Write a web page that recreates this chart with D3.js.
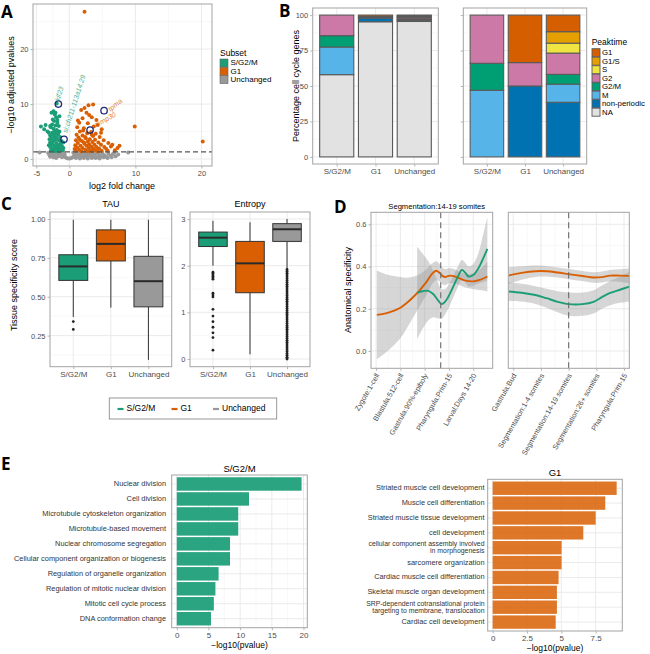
<!DOCTYPE html>
<html><head><meta charset="utf-8">
<script src="https://cdn.jsdelivr.net/npm/d3@7"></script>
<style>body{margin:0;background:#fff}</style>
</head><body><svg id="c" width="650" height="654" xmlns="http://www.w3.org/2000/svg"></svg>
<script>
// ---------------- DATA ----------------
const subsetNames = ["S/G2/M", "G1", "Unchanged"];
const subsetColors = ["#1b9e77", "#d95f02", "#999999"];

// Panel A: volcano [log2FC, -log10 adj p]
const volcanoUnchanged = [[-4.5,1.2],[-3.2,1.1],[-2.8,0.9],[-2.5,1.2],[-2.2,0.7],[-1.9,1.0],[-1.6,0.5],[-1.3,0.9],[-1.0,0.6],[-0.8,1.1],[-0.6,0.3],[-0.4,0.2],[-0.2,0.1],[0.1,0.1],[0.3,0.2],[0.5,0.3],[0.7,0.6],[0.9,0.9],[1.1,0.4],[1.3,1.1],[1.5,0.7],[1.7,0.3],[1.9,1.0],[2.1,0.5],[2.3,1.2],[2.5,0.8],[2.7,0.3],[2.9,1.0],[3.1,0.6],[3.3,1.2],[3.5,0.4],[3.7,0.9],[3.9,0.6],[4.1,1.1],[4.3,0.3],[4.5,0.8],[4.8,0.5],[5.0,1.1],[5.3,0.7],[5.6,0.4],[5.9,1.0],[6.2,0.6],[6.6,0.9],[7.0,0.5],[7.4,0.8],[8.9,1.2],[-2.9,0.4],[-2.4,0.3],[-2.0,0.2],[-1.5,1.2],[-1.1,0.3],[-3.0,0.7],[1.0,0.2],[1.6,0.1],[2.2,0.2],[2.8,0.1],[3.4,0.2],[4.0,0.2],[4.6,0.1],[5.2,0.3],[5.8,0.2],[0.6,1.2],[1.2,0.8],[2.0,0.9],[2.6,0.5],[3.2,0.9],[3.8,0.3],[4.4,1.2],[6.4,0.3],[6.8,1.2],[-1.7,0.8],[-2.6,0.6],[-0.7,0.8]];
const volcanoSG2M = [[-4.3,5.9],[-3.8,5.4],[-3.3,5.0],[-3.6,6.2],[-2.7,8.4],[-2.4,8.7],[-2.2,8.1],[-1.9,10.1],[-2.0,7.6],[-2.5,7.2],[-2.3,6.9],[-1.8,6.6],[-2.6,6.3],[-2.1,6.1],[-1.6,6.0],[-2.8,5.8],[-2.4,5.5],[-1.9,5.3],[-2.2,5.1],[-1.5,5.0],[-2.6,4.8],[-2.0,4.6],[-1.7,4.4],[-2.9,4.3],[-2.3,4.1],[-1.4,4.0],[-2.7,3.8],[-1.9,3.7],[-2.2,3.5],[-1.6,3.4],[-1.2,3.3],[-2.5,3.2],[-2.9,3.0],[-2.0,2.9],[-1.4,2.8],[-2.7,2.6],[-1.8,2.5],[-2.3,2.4],[-1.1,2.3],[-2.9,2.2],[-1.6,2.1],[-2.1,2.0],[-2.6,1.9],[-1.3,1.8],[-1.9,1.7],[-2.4,1.6],[-2.8,1.5],[-1.5,1.5],[-1.0,1.6],[-2.2,1.4],[-1.7,1.4],[-2.6,2.9],[-1.3,2.6],[-2.0,3.9],[-1.6,4.9],[-2.4,4.5],[-1.8,7.1],[-2.1,8.4],[-1.5,7.8],[-2.9,6.0],[-3.1,4.8],[-3.0,3.6],[-3.1,2.5],[-0.9,2.0],[-0.9,3.0]];
const volcanoG1 = [[2.3,26.8],[20.2,3.2],[9.9,5.9],[2.9,9.8],[3.6,9.9],[2.3,9.3],[1.8,8.9],[2.6,8.4],[3.4,7.6],[2.0,7.4],[4.1,7.1],[1.5,6.6],[2.8,6.5],[4.3,6.2],[3.7,5.9],[1.2,5.8],[2.2,5.6],[4.9,5.4],[1.6,5.0],[3.3,4.9],[2.7,4.7],[4.0,4.6],[1.1,4.4],[2.0,4.3],[3.6,4.2],[4.6,4.0],[1.4,3.9],[2.5,3.8],[3.1,3.6],[3.9,3.5],[1.0,3.4],[1.9,3.3],[2.8,3.2],[3.5,3.1],[4.4,3.0],[5.9,2.9],[1.3,2.9],[2.3,2.8],[3.0,2.7],[3.8,2.6],[4.8,2.6],[6.5,2.6],[0.9,2.5],[1.7,2.4],[2.6,2.4],[3.3,2.3],[4.1,2.2],[5.3,2.2],[7.6,2.4],[7.3,2.0],[1.2,2.1],[2.0,2.0],[2.9,2.0],[3.6,1.9],[4.5,1.9],[5.6,1.8],[6.3,2.3],[0.8,1.8],[1.5,1.7],[2.4,1.7],[3.2,1.6],[4.0,1.6],[4.9,1.5],[1.0,1.5],[1.8,1.4],[2.7,1.4],[3.5,1.4],[4.3,1.4],[5.8,1.5],[6.9,1.6],[2.2,3.0],[1.6,3.5],[2.4,4.0],[3.4,4.4],[2.1,5.2],[1.3,7.0],[3.0,8.0],[4.8,4.8],[5.2,3.4]];
const hlGenes = ["klf23", "si:ch211-113a14.29", "mmp30", "tpma"];
const hlLfc = [-1.66, -0.8, 3.14, 5.26];
const hlP = [10.0, 3.6, 5.27, 8.8];
const hlSubset = [0, 0, 1, 1];
const pThreshold = 1.3;
const volcanoXTicks = [-5, 0, 10, 20];
const volcanoYTicks = [0, 10, 20];

// Panel B: peaktime composition (%)
const peakLevels = ["G1", "G1/S", "S", "G2", "G2/M", "M", "non-periodic", "NA"];
const peakColors = ["#D55E00", "#E69F00", "#F0E442", "#CC79A7", "#009E73", "#56B4E9", "#0072B2", "#E2E2E2"];
const bLeftSG2M = [0, 0, 0, 14.5, 8, 19.5, 0, 58];
const bLeftG1 = [1.0, 0, 0, 0.7, 0, 0.6, 2.4, 95.3];
const bLeftUnch = [0.6, 0.6, 0.4, 1.0, 0.6, 0.8, 0.5, 95.5];
const bRightSG2M = [0, 0, 0, 34, 19, 47, 0, 0];
const bRightG1 = [33.5, 0, 0, 16.5, 0, 0, 50, 0];
const bRightUnch = [11.7, 8.1, 7, 15, 6.9, 12.8, 38.5, 0];
const bYTicks = [0, 25, 50, 75, 100];

// Panel C: boxplot stats [lowWhisker, Q1, median, Q3, highWhisker]
const tauStats = [[0.37, 0.605, 0.695, 0.77, 0.995], [0.43, 0.73, 0.84, 0.93, 0.995], [0.094, 0.435, 0.60, 0.76, 0.995]];
const tauOutliers = [[0.34, 0.29], [], []];
const entStats = [[2.0, 2.41, 2.6, 2.72, 2.96], [0.1, 1.42, 2.05, 2.52, 2.93], [1.93, 2.52, 2.78, 2.9, 3.0]];
const entOutliers = [
  [1.86, 1.83, 1.8, 1.77, 1.74, 1.71, 1.41, 1.37, 1.33, 1.065, 0.92, 0.8, 0.68, 0.56, 0.46, 0.19],
  [],
  [1.92, 1.88, 1.84, 1.8, 1.76, 1.72, 1.68, 1.64, 1.6, 1.56, 1.52, 1.48, 1.44, 1.4, 1.36, 1.32, 1.28, 1.24, 1.2, 1.16, 1.12, 1.08, 1.04, 1.0, 0.96, 0.92, 0.88, 0.84, 0.8, 0.76, 0.72, 0.68, 0.64, 0.6, 0.56, 0.52, 0.48, 0.44, 0.4, 0.36, 0.32, 0.28, 0.24, 0.2, 0.16, 0.12, 0.08, 0.04, 0.02, 0.0]
];
const tauTicks = [0.25, 0.50, 0.75, 1.00];
const entTicks = [0, 1, 2, 3];

// Panel D: smoothed anatomical specificity
const leftStages = ["Zygote:1-cell", "Blastula:512-cell", "Gastrula:90%-epiboly", "Pharyngula:Prim-15", "Larval:Days 14-20"];
const rightStages = ["Gastrula:Bud", "Segmentation:1-4 somites", "Segmentation:14-19 somites", "Segmentation:26+ somites", "Pharyngula:Prim-15"];
const leftRefStage = 3.66;
const rightRefStage = 3;
const dLeftG1X = [1.03,1.4,1.71,2.0,2.26,2.55,2.81,3.09,3.3,3.47,3.6,3.72,3.85,3.95,4.07,4.32,4.55,4.73,5.0,5.3,5.58];
const dLeftG1Y = [0.171,0.178,0.19,0.205,0.227,0.258,0.29,0.33,0.365,0.38,0.372,0.357,0.35,0.355,0.357,0.35,0.338,0.332,0.33,0.338,0.353];
const dLeftG1Se = [0.21,0.185,0.165,0.145,0.12,0.095,0.075,0.06,0.05,0.045,0.042,0.04,0.038,0.036,0.035,0.033,0.032,0.033,0.038,0.05,0.07];
const dLeftSX = [2.69,2.9,3.15,3.35,3.55,3.70,3.85,3.98,4.21,4.4,4.53,4.68,4.80,5.0,5.2,5.35,5.58];
const dLeftSY = [0.275,0.283,0.285,0.27,0.24,0.222,0.235,0.258,0.313,0.36,0.384,0.37,0.353,0.36,0.39,0.424,0.484];
const dLeftSSe = [0.22,0.18,0.14,0.11,0.085,0.07,0.06,0.055,0.05,0.048,0.047,0.047,0.048,0.052,0.07,0.1,0.15];
const dRightX = [0.82,1.3,1.8,2.2,2.6,3.0,3.5,3.9,4.2,4.5,4.85,5.19];
const dRightG1Y = [0.357,0.37,0.378,0.378,0.372,0.364,0.355,0.348,0.35,0.357,0.357,0.356];
const dRightG1Se = [0.04,0.032,0.027,0.025,0.024,0.024,0.024,0.025,0.026,0.027,0.03,0.035];
const dRightSY = [0.282,0.276,0.265,0.25,0.233,0.222,0.222,0.233,0.255,0.275,0.29,0.305];
const dRightSSe = [0.045,0.042,0.042,0.045,0.05,0.055,0.055,0.055,0.055,0.058,0.062,0.07];
const dYTicks = [0, 0.2, 0.4, 0.6];

// Panel E: GO enrichment
const goSG2M = ["Nuclear division", "Cell division", "Microtubule cytoskeleton organization", "Microtubule-based movement", "Nuclear chromosome segregation", "Cellular component organization or biogenesis", "Regulation of organelle organization", "Regulation of mitotic nuclear division", "Mitotic cell cycle process", "DNA conformation change"];
const goSG2MVal = [19.7, 11.4, 9.7, 9.7, 8.4, 8.4, 6.6, 6.1, 5.85, 5.4];
const goG1 = ["Striated muscle cell development", "Muscle cell differentiation", "Striated muscle tissue development", "cell development", "cellular component assembly involved \nin morphogenesis", "sarcomere organization", "Cardiac muscle cell differentiation", "Skeletal muscle organ development", "SRP-dependent cotranslational protein \ntargeting to membrane, translocation", "Cardiac cell development"];
const goG1Val = [9.03, 8.2, 7.5, 6.6, 5.02, 5.02, 4.8, 4.68, 4.68, 4.59];
const eLeftTicks = [0, 5, 10, 15, 20];
const eRightTicks = [0, 2.5, 5, 7.5];

// ---------------- HELPERS ----------------
const FONT = '"Liberation Sans", Arial, Helvetica, sans-serif';
const svg = d3.select("#c").attr("font-family", FONT);
const GRID = "#e8e8e8", GRIDMINOR = "#f4f4f4", BORDER = "#a3a3a3", TICKTXT = "#4d4d4d";

function bg(x0, y0, x1, y1) {
  svg.append("rect").attr("x", x0).attr("y", y0).attr("width", x1 - x0).attr("height", y1 - y0).attr("fill", "#fff");
}
function border(x0, y0, x1, y1) {
  svg.append("rect").attr("x", x0).attr("y", y0).attr("width", x1 - x0).attr("height", y1 - y0)
    .attr("fill", "none").attr("stroke", BORDER).attr("stroke-width", 1);
}
function hgrid(y, vals, x0, x1, minor) {
  svg.append("g").selectAll("line").data(vals).join("line")
    .attr("x1", x0).attr("x2", x1).attr("y1", d => y(d)).attr("y2", d => y(d))
    .attr("stroke", minor ? GRIDMINOR : GRID).attr("stroke-width", minor ? 0.6 : 0.9);
}
function vgrid(x, vals, y0, y1, minor) {
  svg.append("g").selectAll("line").data(vals).join("line")
    .attr("y1", y0).attr("y2", y1).attr("x1", d => x(d)).attr("x2", d => x(d))
    .attr("stroke", minor ? GRIDMINOR : GRID).attr("stroke-width", minor ? 0.6 : 0.9);
}
function styleAxis(g, fs) {
  g.attr("font-family", FONT).attr("font-size", fs || 7.5);
  g.select(".domain").remove();
  g.selectAll(".tick line").attr("stroke", "#b3b3b3");
  g.selectAll(".tick text").attr("fill", TICKTXT);
  return g;
}
function leftAxis(scale, x, vals, fmt, showText) {
  const a = d3.axisLeft(scale).tickValues(vals).tickSize(2.5).tickPadding(2).tickFormat(fmt || (d => d));
  const g = styleAxis(svg.append("g").attr("transform", `translate(${x},0)`).call(a));
  if (showText === false) g.selectAll(".tick text").remove();
  return g;
}
function bottomAxis(scale, y, vals, fmt) {
  const a = d3.axisBottom(scale).tickValues(vals).tickSize(2.5).tickPadding(2).tickFormat(fmt || (d => d));
  return styleAxis(svg.append("g").attr("transform", `translate(0,${y})`).call(a));
}
function text(x, y, s, o = {}) {
  const t = svg.append("text").attr("x", x).attr("y", y).text(s)
    .attr("font-size", o.size || 9).attr("fill", o.fill || "#000")
    .attr("text-anchor", o.anchor || "middle");
  if (o.rotate) t.attr("transform", `rotate(${o.rotate},${x},${y})`);
  if (o.weight) t.attr("font-weight", o.weight);
  if (o.family) t.attr("font-family", o.family);
  if (o.style) t.attr("font-style", o.style);
  if (o.baseline) t.attr("dominant-baseline", o.baseline);
  return t;
}
function panelLetter(x, y, s) {
  text(x, y, s, { size: 17, weight: "bold", anchor: "start", family: '"Open Sans", "DejaVu Sans", sans-serif' });
}

// ---------------- PANEL A ----------------
{
  const x0 = 33, x1 = 212, y0 = 4, y1 = 166;
  const x = d3.scaleLinear().domain([-5.5, 21.6]).range([x0, x1]);
  const y = d3.scaleLinear().domain([-1.27, 28.2]).range([y1, y0]);
  bg(x0, y0, x1, y1);
  hgrid(y, [5, 15, 25], x0, x1, true);
  vgrid(x, [-2.5, 5, 15], y0, y1, true);
  hgrid(y, volcanoYTicks, x0, x1, false);
  vgrid(x, volcanoXTicks, y0, y1, false);
  const groups = [[volcanoUnchanged, 2], [volcanoSG2M, 0], [volcanoG1, 1]];
  groups.forEach(([pts, ci]) => {
    svg.append("g").selectAll("circle").data(pts).join("circle")
      .attr("cx", d => x(d[0])).attr("cy", d => y(d[1])).attr("r", 2)
      .attr("fill", subsetColors[ci]);
  });
  svg.append("line").attr("x1", x0).attr("x2", x1).attr("y1", y(pThreshold)).attr("y2", y(pThreshold))
    .attr("stroke", "#555").attr("stroke-width", 1.3).attr("stroke-dasharray", "5,3");
  const lblLayout = [[1, -2.5, -73], [3, -6, -72], [6, -2.7, -29], [6.5, 1, -39]];
  hlGenes.forEach((gname, i) => {
    const cx = x(hlLfc[i]), cy = y(hlP[i]);
    svg.append("circle").attr("cx", cx).attr("cy", cy).attr("r", 3.2)
      .attr("fill", "none").attr("stroke", "#1f2a78").attr("stroke-width", 1.3);
    const [dx, dy, ang] = lblLayout[i];
    text(cx + dx, cy + dy, gname, { size: 7, anchor: "start", rotate: ang, style: "italic", fill: subsetColors[hlSubset[i]] }).attr("opacity", 0.8);
  });
  border(x0, y0, x1, y1);
  leftAxis(y, x0, volcanoYTicks);
  bottomAxis(x, y1, volcanoXTicks);
  text(12, 85, "\u2212log10 adjusted pvalues", { size: 9, rotate: -90, baseline: "middle" });
  text(122, 189, "log2 fold change", { size: 9 });
  panelLetter(1, 18, "A");
  // legend
  text(220, 56, "Subset", { size: 8.5, anchor: "start" });
  subsetNames.forEach((s, i) => {
    const ky = 59 + i * 8.3;
    svg.append("rect").attr("x", 220).attr("y", ky).attr("width", 8).attr("height", 8)
      .attr("fill", subsetColors[i]).attr("stroke", "#666").attr("stroke-width", 0.6);
    text(230.5, ky + 4.2, s, { size: 8, anchor: "start", baseline: "middle" });
  });
}

// ---------------- PANEL B ----------------
{
  const y0 = 8, y1 = 164;
  const y = d3.scaleLinear().domain([-5, 105]).range([y1, y0]);
  const stackKeys = peakLevels.slice().reverse();
  const stack = d3.stack().keys(stackKeys);
  const color = d3.scaleOrdinal().domain(peakLevels).range(peakColors);
  function drawB(x0, x1, vals, showY) {
    bg(x0, y0, x1, y1);
    const xs = d3.scalePoint().domain(subsetNames).range([x0, x1]).padding(0.62);
    hgrid(y, [12.5, 37.5, 62.5, 87.5], x0, x1, true);
    hgrid(y, bYTicks, x0, x1, false);
    vgrid(xs, subsetNames, y0, y1, false);
    const rows = subsetNames.map((s, i) => {
      const r = { cat: s };
      peakLevels.forEach((p, j) => r[p] = vals[i][j]);
      return r;
    });
    const series = stack(rows);
    const bw = xs.step() * 0.88;
    series.forEach(ser => {
      svg.append("g").selectAll("rect").data(ser.filter(d => d[1] - d[0] > 0)).join("rect")
        .attr("x", d => xs(d.data.cat) - bw / 2).attr("width", bw)
        .attr("y", d => y(d[1])).attr("height", d => y(d[0]) - y(d[1]))
        .attr("fill", color(ser.key)).attr("stroke", "#5a5a5a").attr("stroke-width", 1.1);
    });
    border(x0, y0, x1, y1);
    leftAxis(y, x0, bYTicks, null, showY);
    const ax = bottomAxis(xs, y1, subsetNames);
    ax.selectAll(".tick text").attr("font-size", 8);
  }
  drawB(312.7, 438.3, [bLeftSG2M, bLeftG1, bLeftUnch], true);
  drawB(463.3, 586.7, [bRightSG2M, bRightG1, bRightUnch], false);
  text(297, 86, "Percentage cell cycle genes", { size: 9, rotate: -90, baseline: "middle" });
  panelLetter(279, 17, "B");
  text(591.7, 45, "Peaktime", { size: 8.5, anchor: "start" });
  peakLevels.forEach((p, i) => {
    const ky = 48.7 + i * 8.5;
    svg.append("rect").attr("x", 592).attr("y", ky).attr("width", 8).attr("height", 8)
      .attr("fill", peakColors[i]).attr("stroke", "#5a5a5a").attr("stroke-width", 0.9);
    text(602, ky + 4.3, p, { size: 7.8, anchor: "start", baseline: "middle" });
  });
}

// ---------------- PANEL C ----------------
{
  const y0 = 212, y1 = 366.7;
  function drawBox(x0, x1, ydom, ticks, minorTicks, stats, outl, fmt, title) {
    const y = d3.scaleLinear().domain(ydom).range([y1, y0]);
    const xs = d3.scalePoint().domain(subsetNames).range([x0, x1]).padding(0.62);
    bg(x0, y0, x1, y1);
    hgrid(y, minorTicks, x0, x1, true);
    hgrid(y, ticks, x0, x1, false);
    vgrid(xs, subsetNames, y0, y1, false);
    const bw = xs.step() * 0.77;
    subsetNames.forEach((s, i) => {
      const cx = xs(s), st = stats[i];
      const g = svg.append("g");
      g.append("line").attr("x1", cx).attr("x2", cx).attr("y1", y(st[0])).attr("y2", y(st[1])).attr("stroke", "#333").attr("stroke-width", 1);
      g.append("line").attr("x1", cx).attr("x2", cx).attr("y1", y(st[3])).attr("y2", y(st[4])).attr("stroke", "#333").attr("stroke-width", 1);
      g.append("rect").attr("x", cx - bw / 2).attr("width", bw).attr("y", y(st[3])).attr("height", y(st[1]) - y(st[3]))
        .attr("fill", subsetColors[i]).attr("stroke", "#333").attr("stroke-width", 1);
      g.append("line").attr("x1", cx - bw / 2).attr("x2", cx + bw / 2).attr("y1", y(st[2])).attr("y2", y(st[2])).attr("stroke", "#2a2a2a").attr("stroke-width", 2);
      g.selectAll("circle").data(outl[i]).join("circle").attr("cx", cx).attr("cy", d => y(d)).attr("r", 1.4).attr("fill", "#222");
    });
    border(x0, y0, x1, y1);
    leftAxis(y, x0, ticks, fmt);
    const ax = bottomAxis(xs, y1, subsetNames);
    ax.selectAll(".tick text").attr("font-size", 8);
    text((x0 + x1) / 2, 207, title, { size: 9 });
  }
  drawBox(50, 171.7, [0.05, 1.045], tauTicks, [0.125, 0.375, 0.625, 0.875], tauStats, tauOutliers, d3.format(".2f"), "TAU");
  drawBox(190, 310, [-0.165, 3.15], entTicks, [0.5, 1.5, 2.5], entStats, entOutliers, d => d, "Entropy");
  text(15, 285, "Tissue specificity score", { size: 9, rotate: -90, baseline: "middle" });
  panelLetter(1, 210, "C");
  // shared legend
  svg.append("rect").attr("x", 109.3).attr("y", 398).attr("width", 167.4).attr("height", 21)
    .attr("fill", "#fff").attr("stroke", "#8c8c8c").attr("stroke-width", 0.9);
  const lx = [117.5, 171.5, 213];
  subsetNames.forEach((s, i) => {
    svg.append("line").attr("x1", lx[i]).attr("x2", lx[i] + 6).attr("y1", 409).attr("y2", 409)
      .attr("stroke", subsetColors[i]).attr("stroke-width", 2.2);
    text(lx[i] + 9, 409, s, { size: 8.5, anchor: "start", baseline: "middle" });
  });
}

// ---------------- PANEL D ----------------
{
  const y0 = 212.3, y1 = 368.3;
  const y = d3.scaleLinear().domain([-0.082, 0.657]).range([y1, y0]);
  function drawD(x0, x1, xdom, stages, refStage, curves) {
    const x = d3.scaleLinear().domain(xdom).range([x0, x1]);
    bg(x0, y0, x1, y1);
    const idx = stages.map((s, i) => i + 1);
    hgrid(y, [-0.1, 0.1, 0.3, 0.5], x0, x1, true);
    vgrid(x, [1.5, 2.5, 3.5, 4.5], y0, y1, true);
    hgrid(y, dYTicks, x0, x1, false);
    vgrid(x, idx, y0, y1, false);
    const clipId = "clip" + Math.round(x0);
    svg.append("clipPath").attr("id", clipId).append("rect").attr("x", x0).attr("y", y0).attr("width", x1 - x0).attr("height", y1 - y0);
    const cg = svg.append("g").attr("clip-path", `url(#${clipId})`);
    svg.append("line").attr("x1", x(refStage)).attr("x2", x(refStage)).attr("y1", y0).attr("y2", y1)
      .attr("stroke", "#6b6b6b").attr("stroke-width", 1.1).attr("stroke-dasharray", "6,4");
    curves.forEach(c => {
      const pts = c.xs.map((v, i) => ({ x: v, y: c.ys[i], se: c.se[i] }));
      const area = d3.area().x(d => x(d.x)).y0(d => y(d.y - d.se)).y1(d => y(d.y + d.se)).curve(d3.curveCatmullRom);
      cg.append("path").attr("d", area(pts)).attr("fill", "#999").attr("fill-opacity", 0.4);
    });
    curves.forEach(c => {
      const pts = c.xs.map((v, i) => ({ x: v, y: c.ys[i] }));
      const line = d3.line().x(d => x(d.x)).y(d => y(d.y)).curve(d3.curveCatmullRom);
      cg.append("path").attr("d", line(pts)).attr("fill", "none").attr("stroke", c.color).attr("stroke-width", 1.9);
    });
    border(x0, y0, x1, y1);
    const ax = bottomAxis(x, y1, idx, d => stages[d - 1]);
    ax.selectAll(".tick text").attr("text-anchor", "end").attr("dy", null).attr("y", 0)
      .attr("transform", "translate(3,7) rotate(-60)").attr("font-size", 7.3);
    return x;
  }
  drawD(371, 492.7, [0.79, 5.8], leftStages, leftRefStage, [
    { xs: dLeftG1X, ys: dLeftG1Y, se: dLeftG1Se, color: subsetColors[1] },
    { xs: dLeftSX, ys: dLeftSY, se: dLeftSSe, color: subsetColors[0] }
  ]);
  drawD(508.3, 629.3, [0.82, 5.19], rightStages, rightRefStage, [
    { xs: dRightX, ys: dRightG1Y, se: dRightG1Se, color: subsetColors[1] },
    { xs: dRightX, ys: dRightSY, se: dRightSSe, color: subsetColors[0] }
  ]);
  leftAxis(y, 371, dYTicks, d3.format(".1f"));
  text(436.7, 209, "Segmentation:14-19 somites", { size: 7.6 });
  text(348.5, 290, "Anatomical specificity", { size: 9, rotate: -90, baseline: "middle" });
  panelLetter(334, 213, "D");
}

// ---------------- PANEL E ----------------
{
  function drawE(x0, x1, y0, y1, xdom, terms, vals, ticks, color, opacity, title, labelX) {
    const x = d3.scaleLinear().domain(xdom).range([x0, x1]);
    const ys = d3.scalePoint().domain(terms).range([y0, y1]).padding(0.6);
    bg(x0, y0, x1, y1);
    const minor = ticks.slice(0, -1).map((t, i) => (t + ticks[i + 1]) / 2);
    vgrid(x, minor, y0, y1, true);
    vgrid(x, ticks, y0, y1, false);
    hgrid(ys, terms, x0, x1, false);
    const bh = ys.step() * 0.9;
    svg.append("g").selectAll("rect").data(terms).join("rect")
      .attr("x", x(0)).attr("width", (d, i) => x(vals[i]) - x(0))
      .attr("y", d => ys(d) - bh / 2).attr("height", bh)
      .attr("fill", color).attr("fill-opacity", opacity);
    border(x0, y0, x1, y1);
    const ax = bottomAxis(x, y1, ticks);
    ax.selectAll(".tick text").attr("font-size", 8);
    // category labels
    terms.forEach(t => {
      const lines = t.split("\n");
      const cy = ys(t);
      lines.forEach((ln, k) => {
        const off = lines.length === 1 ? 0 : (k === 0 ? -3.5 : 3.5);
        text(labelX, cy + off, ln, { size: lines.length === 1 ? 7.4 : 6.9, anchor: "end", baseline: "middle", fill: "#333" });
      });
    });
    text((x0 + x1) / 2, y0 - 3.5, title, { size: 9.5 });
    text((x0 + x1) / 2, y1 + 20, "\u2212log10(pvalue)", { size: 8.5 });
  }
  drawE(171.7, 307.3, 475, 627.7, [-0.8, 20.6], goSG2M, goSG2MVal, eLeftTicks, subsetColors[0], 0.93, "S/G2/M", 166);
  drawE(487.7, 622.3, 479.3, 631, [-0.36, 9.44], goG1, goG1Val, eRightTicks, subsetColors[1], 0.85, "G1", 484.5);
  panelLetter(1, 470, "E");
}
</script></body></html>
